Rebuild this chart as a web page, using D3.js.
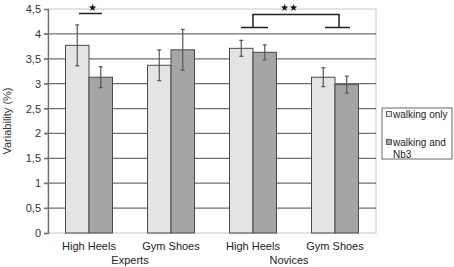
<!DOCTYPE html>
<html>
<head>
<meta charset="utf-8">
<script src="https://cdn.jsdelivr.net/npm/d3@7"></script>
<style>
  body { margin: 0; background: #fff; }
  text { font-family: "Liberation Sans", Arial, sans-serif; }
</style>
</head>
<body>
<svg width="454" height="267"></svg>
<script>
// data
const groups = ["Experts", "Experts", "Novices", "Novices"];
const shoes = ["High Heels", "Gym Shoes", "High Heels", "Gym Shoes"];
const series = ["walking only", "walking and Nb3"];
const walkingOnly = [3.77, 3.37, 3.71, 3.13];
const walkingNb3 = [3.13, 3.68, 3.63, 2.98];
const errOnly = [0.41, 0.31, 0.16, 0.19];
const errNb3 = [0.21, 0.41, 0.15, 0.17];
const yTicks = [0, 0.5, 1, 1.5, 2, 2.5, 3, 3.5, 4, 4.5];

var svg = d3.select("svg");
var plotL = 48, plotR = 376, plotT = 9, plotB = 233;

var x = d3.scaleBand().domain(d3.range(4)).range([plotL, plotR]);
var xs = d3.scaleBand().domain([0, 1]).range([0, 47]);
var y = d3.scaleLinear().domain([0, 4.5]).range([plotB, plotT]);
var fills = ["#e4e4e4", "#a5a5a5"];

// plot border
svg.append("rect")
    .attr("x", plotL).attr("y", plotT)
    .attr("width", plotR - plotL).attr("height", plotB - plotT)
    .attr("fill", "none").attr("stroke", "#c8c8c8");

// gridlines
svg.selectAll(".grid")
    .data(yTicks.filter(d => d > 0 && d < 4.5))
    .enter().append("line")
    .attr("x1", plotL - 4).attr("x2", plotR)
    .attr("y1", d => y(d)).attr("y2", d => y(d))
    .attr("stroke", "#6e6e6e").attr("stroke-width", 1.3);

// y axis
svg.append("g")
    .attr("transform", "translate(" + plotL + ",0)")
    .call(d3.axisLeft(y).tickValues(yTicks).tickSize(4)
        .tickFormat(d => String(d).replace(".", ",")))
    .call(g => g.select(".domain").attr("stroke", "#6e6e6e").attr("stroke-width", 1.3))
    .call(g => g.selectAll(".tick line").attr("stroke", "#6e6e6e"))
    .call(g => g.selectAll("text").attr("font-size", "11px").attr("fill", "#333")
        .attr("font-family", "Liberation Sans, Arial, sans-serif"));

svg.append("text")
    .attr("transform", "translate(11,121) rotate(-90)")
    .attr("text-anchor", "middle")
    .attr("font-size", "11px").attr("fill", "#333")
    .text("Variability (%)");

// bars
var data = [];
shoes.forEach(function (s, i) {
    data.push({ g: i, s: 0, v: walkingOnly[i], e: errOnly[i] });
    data.push({ g: i, s: 1, v: walkingNb3[i], e: errNb3[i] });
});
var off = (x.bandwidth() - 47) / 2;

svg.selectAll(".bar")
    .data(data)
    .enter().append("rect")
    .attr("x", d => x(d.g) + off + xs(d.s))
    .attr("y", d => y(d.v))
    .attr("width", xs.bandwidth())
    .attr("height", d => plotB - y(d.v))
    .attr("fill", d => fills[d.s])
    .attr("stroke", "#4a4a4a").attr("stroke-width", 1);

// error bars
var eb = svg.selectAll(".err").data(data).enter().append("g")
    .attr("stroke", "#555").attr("stroke-width", 1.2);
eb.append("line")
    .attr("x1", d => x(d.g) + off + xs(d.s) + xs.bandwidth() / 2)
    .attr("x2", d => x(d.g) + off + xs(d.s) + xs.bandwidth() / 2)
    .attr("y1", d => y(d.v + d.e)).attr("y2", d => y(d.v - d.e));
[1, -1].forEach(function (sign) {
    eb.append("line")
        .attr("x1", d => x(d.g) + off + xs(d.s) + xs.bandwidth() / 2 - 2)
        .attr("x2", d => x(d.g) + off + xs(d.s) + xs.bandwidth() / 2 + 2)
        .attr("y1", d => y(d.v + sign * d.e)).attr("y2", d => y(d.v + sign * d.e));
});

// category labels
svg.selectAll(".xl")
    .data(shoes)
    .enter().append("text")
    .attr("x", (d, i) => x(i) + x.bandwidth() / 2)
    .attr("y", 250)
    .attr("text-anchor", "middle")
    .attr("font-size", "11px").attr("fill", "#222")
    .text(d => d);
svg.append("text").attr("x", x(0) + x.bandwidth()).attr("y", 264)
    .attr("text-anchor", "middle").attr("font-size", "11px").attr("fill", "#222")
    .text(groups[0]);
svg.append("text").attr("x", x(2) + x.bandwidth() - 5).attr("y", 264)
    .attr("text-anchor", "middle").attr("font-size", "11px").attr("fill", "#222")
    .text(groups[2]);

// significance marks
var sig = svg.append("g").attr("stroke", "#222").attr("stroke-width", 1.5).attr("fill", "none");
var c0 = x(0) + x.bandwidth() / 2;
sig.append("line").attr("x1", c0 - 10).attr("x2", c0 + 13).attr("y1", 13.5).attr("y2", 13.5);
svg.append("text").attr("x", c0 + 3).attr("y", 10.5).attr("text-anchor", "middle")
    .attr("font-size", "10px").attr("fill", "#111").attr("font-family", "DejaVu Sans").text("★");

var c2 = x(2) + x.bandwidth() / 2, c3 = x(3) + x.bandwidth() / 2;
sig.append("path")
    .attr("d", "M" + (c2 - 12) + ",27.5H" + (c2 + 15) + "M" + c2 + ",27.5V14.5H" + (c3 + 4) + "V27.5"
        + "M" + (c3 - 10) + ",27.5H" + (c3 + 15));
svg.append("text").attr("x", (c2 + c3) / 2 - 5).attr("y", 10.5).attr("text-anchor", "middle")
    .attr("font-size", "10px").attr("fill", "#111").attr("font-family", "DejaVu Sans").text("★★");

// legend
var lg = svg.append("g");
lg.append("rect").attr("x", 382).attr("y", 108).attr("width", 70).attr("height", 51)
    .attr("fill", "#fff").attr("stroke", "#666");
[0, 1].forEach(function (i) {
    var yy = i === 0 ? 113 : 141;
    lg.append("rect").attr("x", 386.5).attr("y", yy - 1.5).attr("width", 5).attr("height", 5)
        .attr("fill", fills[i]).attr("stroke", "#444").attr("stroke-width", 0.8);
});
lg.append("text").attr("x", 393).attr("y", 118).attr("font-size", "10px").attr("fill", "#222").text(series[0]);
lg.append("text").attr("x", 393).attr("y", 146).attr("font-size", "10px").attr("fill", "#222").text("walking and");
lg.append("text").attr("x", 393).attr("y", 158).attr("font-size", "10px").attr("fill", "#222").text("Nb3");
</script>
</body>
</html>
